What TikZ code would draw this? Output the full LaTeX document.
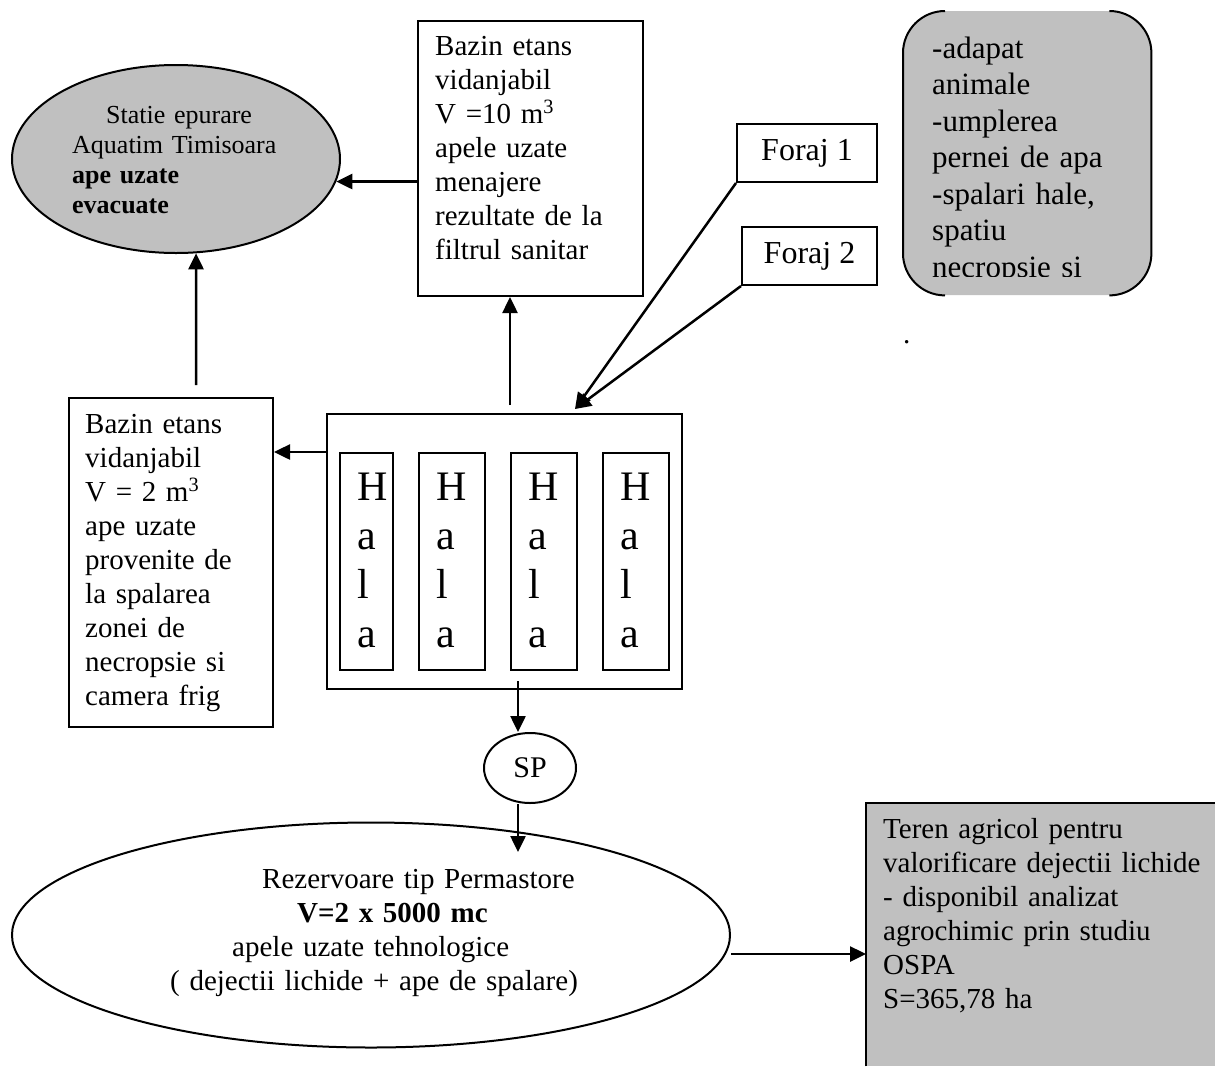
\documentclass[tikz,border=0pt]{standalone}
\usepackage{fontspec}
\setmainfont{Liberation Serif}
\usetikzlibrary{shapes.geometric,arrows.meta,calc}
\definecolor{gri}{HTML}{C0C0C0}
\newcommand{\fnt}[2]{\fontsize{#1}{#2}\selectfont}

\begin{document}
\begin{tikzpicture}[x=1pt,y=-1pt,
  bloc/.style={draw,line width=2pt,inner sep=0pt,anchor=north west},
  txt/.style={anchor=base west,align=left,inner sep=0pt,text width=420pt,font=\fnt{29}{34}},
  sageata/.style={line width=2.5pt,-{Triangle[length=16pt,width=15pt]}}]

	\useasboundingbox (0,0) rectangle (1215,1066);

	% Statie epurare
	\node[ellipse,draw,line width=2pt,fill=gri,minimum width=328pt,minimum height=188pt] (statie) at (176,159) {};
	\node[txt,font=\fnt{26}{30}] (statietxt) at (72,123) {\hspace*{34pt}Statie epurare\\Aquatim Timisoara\\\textbf{ape uzate}\\\textbf{evacuate}};

	% Bazin 10 m3
	\node[bloc,minimum width=225pt,minimum height=275pt] (bazinsus) at (417,20) {};
	\node[txt] (bazinsustxt) at (435,55) {Bazin etans\\vidanjabil\\V =10 m\textsuperscript{3}\\apele uzate\\menajere\\rezultate de la\\filtrul sanitar};

	% Foraje
	\node[bloc,minimum width=140pt,minimum height=58pt,font=\fnt{32}{38}] (foraj1) at (736,123) {Foraj 1};
	\node[bloc,minimum width=135pt,minimum height=58pt,font=\fnt{32}{38}] (foraj2) at (741,226) {Foraj 2};

	% Utilizari apa
	\node[fill=gri,rounded corners=42pt,inner sep=0pt,anchor=north west,minimum width=248pt,minimum height=284pt] (utilizari) at (903,11) {};
	\draw[line width=2pt,rounded corners=42pt] ($(utilizari.north west)+(42,0)$) -- (utilizari.north west) -- (utilizari.south west) -- ($(utilizari.south west)+(42,0)$);
	\draw[line width=2pt,rounded corners=42pt] ($(utilizari.north east)+(-42,0)$) -- (utilizari.north east) -- (utilizari.south east) -- ($(utilizari.south east)+(-42,0)$);
	\begin{scope}
		\clip (903,11) rectangle (1151,276);
		\node[txt,font=\fnt{31}{36.5}] (utilizaritxt) at (932,58) {-adapat\\animale\\-umplerea\\pernei de apa\\-spalari hale,\\spatiu\\necropsie si};
	\end{scope}
	\node[inner sep=0pt,anchor=base west,font=\fnt{29}{34}] (punct) at (903,343) {.};

	% Bazin 2 m3
	\node[bloc,minimum width=204pt,minimum height=329pt] (bazinjos) at (68,397) {};
	\node[txt] (bazinjostxt) at (85,433) {Bazin etans\\vidanjabil\\V = 2 m\textsuperscript{3}\\ape uzate\\provenite de\\la spalarea\\zonei de\\necropsie si\\camera frig};

	% Hale
	\node[bloc,minimum width=355pt,minimum height=275pt] (hale) at (326,413) {};
	\foreach \i/\x/\w in {1/339/53,2/418/66,3/510/66,4/602/66}{
		\node[bloc,minimum width=\w pt,minimum height=217pt] (hala\i) at (\x,452) {};
		\node[txt,font=\fnt{42}{49}] (litere\i) at (\x+18,500) {H\\a\\l\\a};
	}

	% SP
	\node[ellipse,draw,line width=2pt,minimum width=92pt,minimum height=70pt,inner sep=0pt,font=\fnt{30}{34}] (sp) at (530,768) {SP};

	% Rezervoare
	\node[ellipse,draw,line width=2pt,minimum width=718pt,minimum height=225pt] (rezervoare) at (371,935) {};
	\node[txt] (rezervoaretxt) at (170,888) {\hspace*{92pt}Rezervoare tip Permastore\\\hspace*{127pt}\textbf{V=2 x 5000 mc}\\\hspace*{62pt}apele uzate tehnologice\\( dejectii lichide + ape de spalare)};

	% Teren agricol
	\node[fill=gri,inner sep=0pt,anchor=north west,minimum width=349pt,minimum height=263pt] (teren) at (866,803) {};
	\draw[line width=2pt] (teren.south west) -- (teren.north west) -- (teren.north east);
	\node[txt] (terentxt) at (883,838) {Teren agricol pentru\\valorificare dejectii lichide\\- disponibil analizat\\agrochimic prin studiu\\OSPA\\S=365,78 ha};

	% legaturi
	\coordinate (haleus) at (510,405);
	\coordinate (intrare) at (575,409);
	\coordinate (bazinjosus) at (196,385);
	\coordinate (halejos) at (518,681);
	\coordinate (rezintrare) at (518,852);
	\draw[sageata] (bazinsus.west |- statie.-8) -- (statie.-8);
	\draw[sageata] (bazinjosus) -- (statie.-78);
	\draw[sageata] (haleus) -- (haleus |- bazinsus.south);
	\draw[sageata] (foraj1.south west) -- (intrare);
	\draw[sageata] (foraj2.south west) -- (intrare);
	\draw[sageata] (hale.west |- hala1.north) -- (bazinjos.east |- hala1.north);
	\draw[sageata] (halejos) -- (halejos |- sp.north);
	\draw[sageata] (halejos |- sp.south) -- (rezintrare);
	\draw[sageata] (rezervoare.east |- 0,954) -- (teren.west |- 0,954);
\end{tikzpicture}
\end{document}
